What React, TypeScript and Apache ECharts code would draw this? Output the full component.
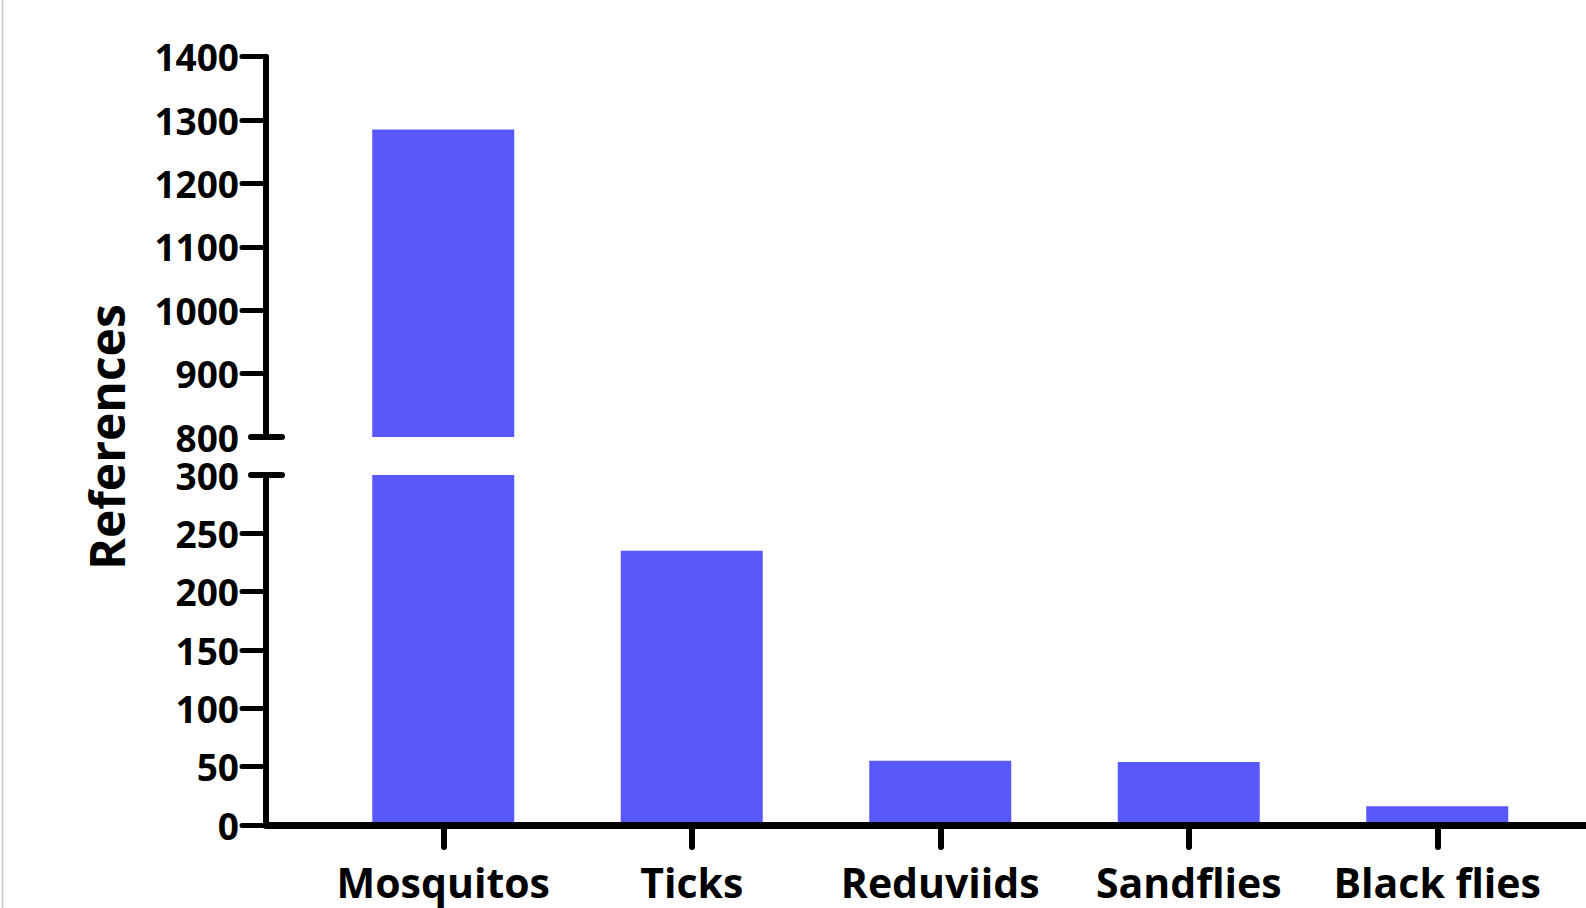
import React, { useEffect, useRef } from 'react';
import * as echarts from 'echarts';

// ---- data ----
const categories = ['Mosquitos', 'Ticks', 'Reduviids', 'Sandflies', 'Black flies'];
const references = [1285, 235, 55, 54, 16];
const upperRange = [800, 1400];
const lowerRange = [0, 300];
const upperTicks = [900, 1000, 1100, 1200, 1300, 1400];
const lowerTicks = [0, 50, 100, 150, 200, 250];
const axisTitle = 'References';

export default function App() {
  const ref = useRef<HTMLDivElement>(null);

  useEffect(() => {
    const chart = echarts.init(ref.current as HTMLDivElement, null, { renderer: 'svg' });
    const FONT = 'Open Sans';
    const GRID_LEFT = 319;
    const GRID_RIGHT = 24.5;
    const AXIS_X = 266;
    const UP_TOP = 56.7;
    const UP_H = 380.3;
    const LOW_TOP = 475;
    const LOW_H = 350;
    const BAR = '#5858FA';

    const yAxisCfg = (gridIndex: number, range: number[], interval: number, ticks: number[]) => ({
      type: 'value',
      gridIndex,
      min: range[0],
      max: range[1],
      interval,
      offset: GRID_LEFT - AXIS_X,
      z: 5,
      axisLine: { show: true, lineStyle: { color: '#000', width: 6, cap: 'round' } },
      axisTick: {
        show: true,
        length: 24,
        customValues: ticks,
        lineStyle: { color: '#000', width: 5, cap: 'round' },
      },
      axisLabel: {
        color: '#000',
        fontFamily: FONT,
        fontWeight: 'bold',
        fontSize: 37,
        lineHeight: 34,
        margin: 27,
        formatter: (v: number) => String(v),
      },
      splitLine: { show: false },
    });

    chart.setOption({
      animation: false,
      backgroundColor: '#fff',
      grid: [
        { left: GRID_LEFT, right: GRID_RIGHT, top: UP_TOP, height: UP_H },
        { left: GRID_LEFT, right: GRID_RIGHT, top: LOW_TOP, height: LOW_H },
        { left: AXIS_X, right: 0, top: LOW_TOP, height: LOW_H },
      ],
      xAxis: [
        { type: 'category', gridIndex: 0, data: categories, show: false },
        {
          type: 'category',
          gridIndex: 1,
          data: categories,
          z: 5,
          axisLine: { show: true, lineStyle: { color: '#000', width: 7 } },
          axisTick: {
            show: true,
            alignWithLabel: true,
            length: 22,
            lineStyle: { color: '#000', width: 6, cap: 'round' },
          },
          axisLabel: {
            interval: 0,
            color: '#000',
            fontFamily: FONT,
            fontWeight: 'bold',
            fontSize: 41,
            margin: 36,
          },
        },
        {
          type: 'value',
          gridIndex: 2,
          min: 0,
          max: 1,
          z: 6,
          axisLine: { show: true, lineStyle: { color: '#000', width: 7 } },
          axisTick: { show: false },
          axisLabel: { show: false },
          splitLine: { show: false },
        },
      ],
      yAxis: [
        yAxisCfg(0, upperRange, 100, upperTicks),
        yAxisCfg(1, lowerRange, 50, lowerTicks),
        { type: 'value', gridIndex: 2, show: false, min: 0, max: 1 },
      ],
      series: [
        {
          type: 'bar',
          xAxisIndex: 0,
          yAxisIndex: 0,
          data: references.map((v) => (v > upperRange[0] ? v : '-')),
          barWidth: 142,
          clip: true,
          itemStyle: { color: BAR },
        },
        {
          type: 'bar',
          xAxisIndex: 1,
          yAxisIndex: 1,
          data: references,
          barWidth: 142,
          clip: true,
          itemStyle: { color: BAR },
        },
      ],
    });

    const yBreakUp = chart.convertToPixel({ yAxisIndex: 0 }, upperRange[0]) as number;
    const yBreakLow = chart.convertToPixel({ yAxisIndex: 1 }, lowerRange[1]) as number;

    chart.setOption({
      graphic: [
        {
          type: 'line',
          z: 10,
          shape: { x1: 2.5, y1: 0, x2: 2.5, y2: 908 },
          style: { stroke: '#c8c8c8', lineWidth: 1.5 },
        },
        {
          type: 'line',
          z: 10,
          shape: { x1: AXIS_X - 15, y1: yBreakUp, x2: AXIS_X + 16, y2: yBreakUp },
          style: { stroke: '#000', lineWidth: 6, lineCap: 'round' },
        },
        {
          type: 'line',
          z: 10,
          shape: { x1: AXIS_X - 15, y1: yBreakLow, x2: AXIS_X + 16, y2: yBreakLow },
          style: { stroke: '#000', lineWidth: 6, lineCap: 'round' },
        },
        {
          type: 'text',
          z: 10,
          x: 106,
          y: 437,
          rotation: Math.PI / 2,
          style: {
            text: axisTitle,
            fill: '#000',
            font: `bold 48px "${FONT}"`,
            textAlign: 'center',
            textVerticalAlign: 'middle',
          },
        },
      ],
    });

    return () => chart.dispose();
  }, []);

  return (
    <div
      ref={ref}
      style={{ position: 'absolute', left: 0, top: 0, width: 1586, height: 908 }}
    />
  );
}
